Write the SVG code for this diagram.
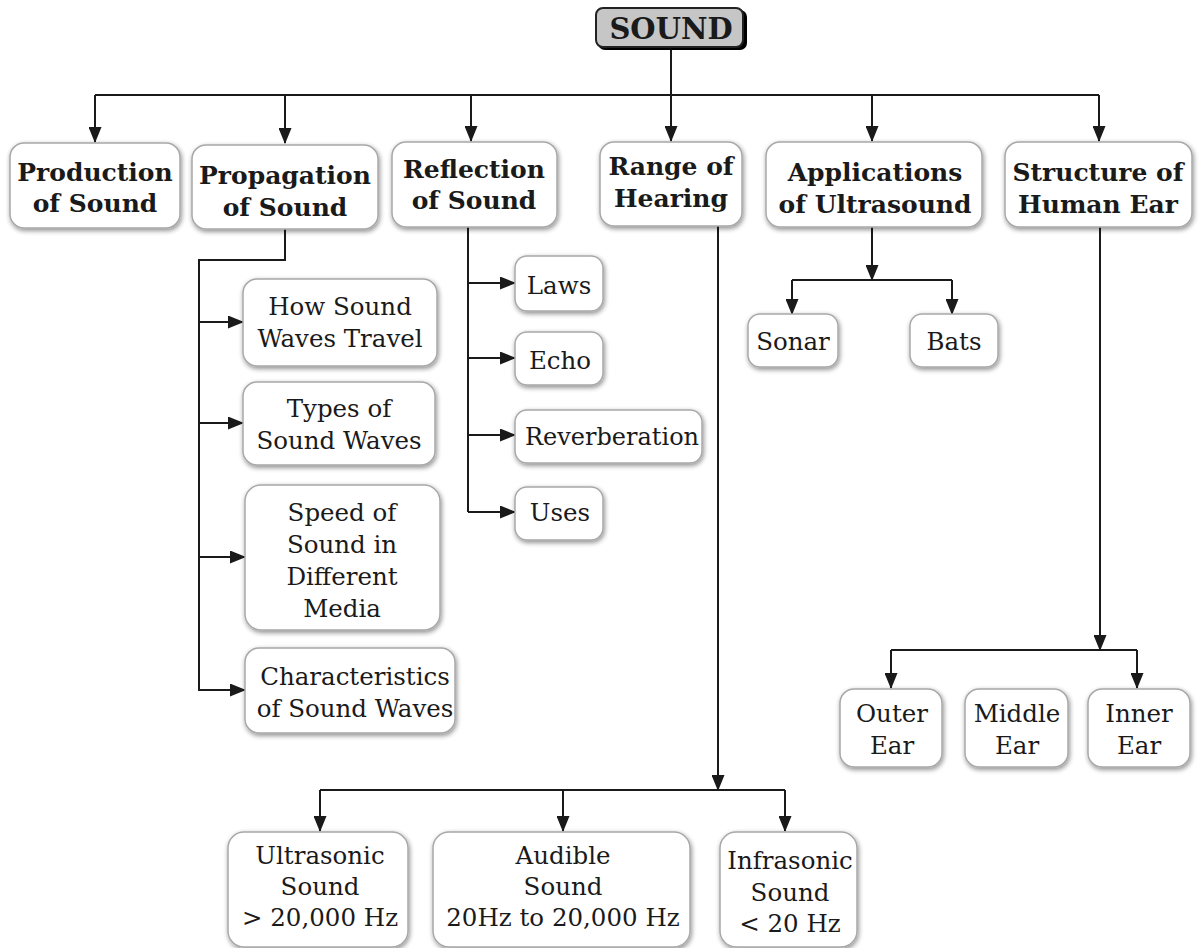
<svg xmlns="http://www.w3.org/2000/svg" width="1203" height="948" viewBox="0 0 1203 948">
<defs>
<marker id="ah" markerUnits="userSpaceOnUse" markerWidth="16" markerHeight="13" refX="15" refY="6.5" orient="auto">
<path d="M0,0 L16,6.5 L0,13 Z" fill="#1a1a1a"/>
</marker>
<filter id="sh" x="-10%" y="-10%" width="125%" height="130%">
<feGaussianBlur in="SourceAlpha" stdDeviation="2.5"/>
<feOffset dx="1" dy="2" result="b"/>
<feComponentTransfer><feFuncA type="linear" slope="0.45"/></feComponentTransfer>
<feMerge><feMergeNode/><feMergeNode in="SourceGraphic"/></feMerge>
</filter>
</defs>
<style>
.box{fill:#fff;stroke:#a8a8a8;stroke-width:1.5;filter:url(#sh)}
.t{font-family:"DejaVu Serif","Liberation Serif",serif;font-size:24.5px;fill:#1a1a1a;text-anchor:middle}
.b{font-weight:bold;font-size:25px}
.c{fill:none;stroke:#1a1a1a;stroke-width:2}
.a{fill:none;stroke:#1a1a1a;stroke-width:2;marker-end:url(#ah)}
</style>
<rect width="1203" height="948" fill="#fff"/>

<g id="connectors">
<polyline class="c" points="671,49 671,95"/>
<polyline class="c" points="95,95 1099,95"/>
<line class="a" x1="95" y1="95" x2="95" y2="142"/>
<line class="a" x1="285" y1="95" x2="285" y2="143"/>
<line class="a" x1="471" y1="95" x2="471" y2="141"/>
<line class="a" x1="671" y1="95" x2="671" y2="141"/>
<line class="a" x1="872" y1="95" x2="872" y2="141"/>
<line class="a" x1="1099" y1="95" x2="1099" y2="141"/>
<polyline class="c" points="285,229 285,260 199,260 199,691"/>
<line class="a" x1="199" y1="322" x2="243" y2="322"/>
<line class="a" x1="199" y1="423" x2="243" y2="423"/>
<line class="a" x1="199" y1="557" x2="245" y2="557"/>
<line class="a" x1="199" y1="690" x2="245" y2="690"/>
<polyline class="c" points="468,227 468,512"/>
<line class="a" x1="468" y1="283" x2="515" y2="283"/>
<line class="a" x1="468" y1="358" x2="515" y2="358"/>
<line class="a" x1="468" y1="435" x2="515" y2="435"/>
<line class="a" x1="468" y1="512" x2="515" y2="512"/>
<line class="a" x1="718" y1="226" x2="718" y2="790"/>
<polyline class="c" points="320,790 785,790"/>
<line class="a" x1="320" y1="790" x2="320" y2="831"/>
<line class="a" x1="563" y1="790" x2="563" y2="831"/>
<line class="a" x1="785" y1="790" x2="785" y2="831"/>
<line class="a" x1="872" y1="227" x2="872" y2="280"/>
<polyline class="c" points="792,280 952,280"/>
<line class="a" x1="792" y1="280" x2="792" y2="314"/>
<line class="a" x1="952" y1="280" x2="952" y2="314"/>
<line class="a" x1="1100" y1="227" x2="1100" y2="650"/>
<polyline class="c" points="891,650 1137,650"/>
<line class="a" x1="891" y1="650" x2="891" y2="688"/>
<line class="a" x1="1137" y1="650" x2="1137" y2="688"/>
</g>

<g id="sound">
<rect x="598" y="10" width="149" height="40" rx="7" fill="#000"/>
<rect x="596" y="8" width="147" height="39" rx="7" fill="#c6c6c6" stroke="#222" stroke-width="2"/>
<text class="t b" x="671" y="39" style="font-size:29px">SOUND</text>
</g>

<g id="production"><rect class="box" x="10" y="143" width="170" height="85" rx="14"/>
<text class="t b" x="95" y="181">Production</text><text class="t b" x="95" y="212">of Sound</text></g>
<g id="propagation"><rect class="box" x="192" y="145" width="186" height="84" rx="14"/>
<text class="t b" x="285" y="184">Propagation</text><text class="t b" x="285" y="216">of Sound</text></g>
<g id="reflection"><rect class="box" x="392" y="142" width="165" height="85" rx="14"/>
<text class="t b" x="474" y="178">Reflection</text><text class="t b" x="474" y="209">of Sound</text></g>
<g id="range"><rect class="box" x="600" y="142" width="142" height="84" rx="14"/>
<text class="t b" x="671" y="175">Range of</text><text class="t b" x="671" y="207">Hearing</text></g>
<g id="applications"><rect class="box" x="766" y="142" width="216" height="85" rx="14"/>
<text class="t b" x="875" y="181">Applications</text><text class="t b" x="875" y="213">of Ultrasound</text></g>
<g id="structure"><rect class="box" x="1005" y="142" width="187" height="85" rx="14"/>
<text class="t b" x="1098" y="181">Structure of</text><text class="t b" x="1098" y="213">Human Ear</text></g>

<g id="how"><rect class="box" x="243" y="279" width="194" height="87" rx="14"/>
<text class="t" x="340" y="315">How Sound</text><text class="t" x="340" y="347">Waves Travel</text></g>
<g id="types"><rect class="box" x="243" y="382" width="192" height="83" rx="14"/>
<text class="t" x="339" y="417">Types of</text><text class="t" x="339" y="449">Sound Waves</text></g>
<g id="speed"><rect class="box" x="245" y="485" width="195" height="145" rx="16"/>
<text class="t" x="342" y="521">Speed of</text><text class="t" x="342" y="553">Sound in</text><text class="t" x="342" y="585">Different</text><text class="t" x="342" y="617">Media</text></g>
<g id="characteristics"><rect class="box" x="245" y="648" width="210" height="85" rx="14"/>
<text class="t" x="355" y="685">Characteristics</text><text class="t" x="355" y="717">of Sound Waves</text></g>

<g id="laws"><rect class="box" x="515" y="256" width="88" height="55" rx="12"/><text class="t" x="559" y="294">Laws</text></g>
<g id="echo"><rect class="box" x="515" y="332" width="88" height="53" rx="12"/><text class="t" x="560" y="369">Echo</text></g>
<g id="reverberation"><rect class="box" x="515" y="410" width="187" height="53" rx="12"/><text class="t" x="612" y="445" style="font-size:24px">Reverberation</text></g>
<g id="uses"><rect class="box" x="515" y="487" width="88" height="53" rx="12"/><text class="t" x="560" y="521">Uses</text></g>

<g id="sonar"><rect class="box" x="748" y="314" width="90" height="53" rx="12"/><text class="t" x="793" y="350">Sonar</text></g>
<g id="bats"><rect class="box" x="910" y="314" width="88" height="53" rx="12"/><text class="t" x="954" y="350">Bats</text></g>

<g id="outer"><rect class="box" x="840" y="689" width="102" height="78" rx="14"/>
<text class="t" x="892" y="722">Outer</text><text class="t" x="892" y="754">Ear</text></g>
<g id="middle"><rect class="box" x="965" y="689" width="103" height="78" rx="14"/>
<text class="t" x="1017" y="722">Middle</text><text class="t" x="1017" y="754">Ear</text></g>
<g id="inner"><rect class="box" x="1088" y="689" width="102" height="78" rx="14"/>
<text class="t" x="1139" y="722">Inner</text><text class="t" x="1139" y="754">Ear</text></g>

<g id="ultrasonic"><rect class="box" x="228" y="832" width="180" height="115" rx="16"/>
<text class="t" x="320" y="864">Ultrasonic</text><text class="t" x="320" y="895">Sound</text><text class="t" x="320" y="926">&gt; 20,000 Hz</text></g>
<g id="audible"><rect class="box" x="433" y="832" width="257" height="115" rx="16"/>
<text class="t" x="563" y="864">Audible</text><text class="t" x="563" y="895">Sound</text><text class="t" x="563" y="926">20Hz to 20,000 Hz</text></g>
<g id="infrasonic"><rect class="box" x="720" y="832" width="137" height="115" rx="16"/>
<text class="t" x="790" y="869">Infrasonic</text><text class="t" x="790" y="901">Sound</text><text class="t" x="790" y="932">&lt; 20 Hz</text></g>
</svg>
